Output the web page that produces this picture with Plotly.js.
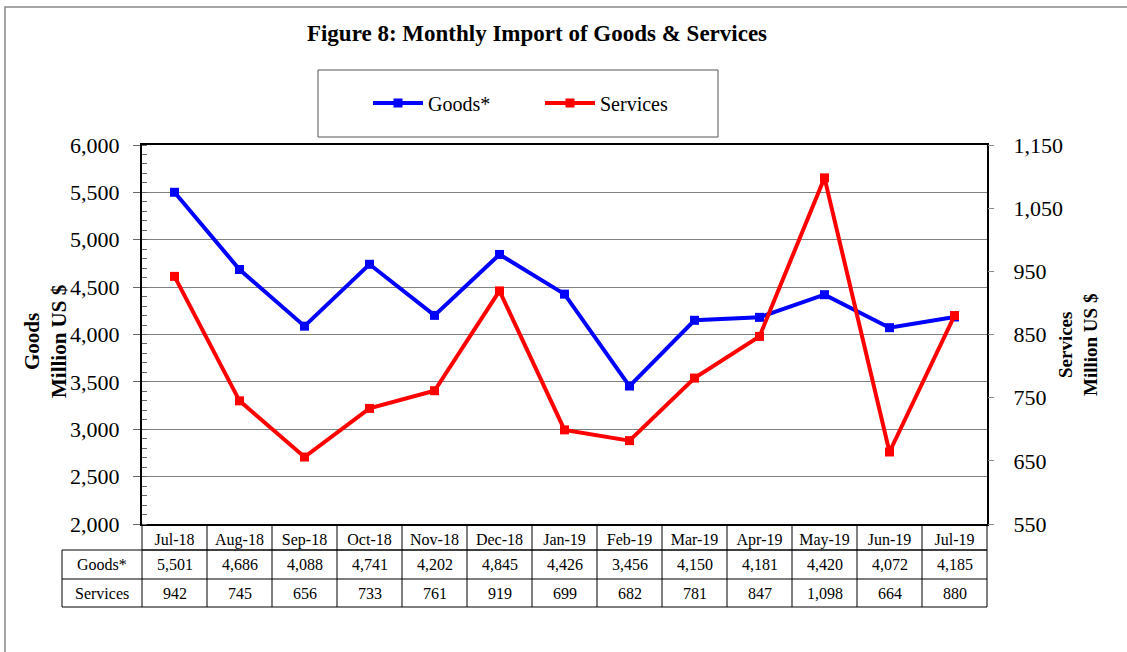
<!DOCTYPE html>
<html>
<head>
<meta charset="utf-8">
<script src="https://cdn.plot.ly/plotly-3.0.1.min.js"></script>
<style>
  body { margin: 0; background: #fff; }
  #chart { width: 1127px; height: 652px; }
</style>
</head>
<body>
<div id="chart"></div>
<script>
// months on the x axis (also the header row of the table)
const months = ['Jul-18', 'Aug-18', 'Sep-18', 'Oct-18', 'Nov-18', 'Dec-18', 'Jan-19',
  'Feb-19', 'Mar-19', 'Apr-19', 'May-19', 'Jun-19', 'Jul-19'];
// Million US $
const goods = [5501, 4686, 4088, 4741, 4202, 4845, 4426, 3456, 4150, 4181, 4420, 4072, 4185];
const services = [942, 745, 656, 733, 761, 919, 699, 682, 781, 847, 1098, 664, 880];
const rowLabels = ['Goods*', 'Services'];

const FONT = "'Liberation Serif', 'Times New Roman', serif";

// plot area in pixels, used to turn pixel spots into paper coords
const L = 142, R = 140, T = 145, B = 128;
const W = 1127 - L - R, H = 652 - T - B;
const px = x => (x - L) / W;
const py = y => (652 - B - y) / H;

const fmt = v => v.toLocaleString('en-US');

const goodsTrace = {
  name: 'Goods*',
  x: months,
  y: goods,
  type: 'scatter',
  mode: 'lines+markers',
  line: { color: '#0000ff', width: 4 },
  marker: { color: '#0000ff', symbol: 'square', size: 9 },
  yaxis: 'y',
};
const servicesTrace = {
  name: 'Services',
  x: months,
  y: services,
  type: 'scatter',
  mode: 'lines+markers',
  line: { color: '#ff0000', width: 4 },
  marker: { color: '#ff0000', symbol: 'square', size: 9 },
  yaxis: 'y2',
};

/*
  The data table under the chart: shapes for the grid, annotations for the text
*/
const rowEdges = [py(524), py(550), py(579), py(607)];
const labelLeft = px(62);
const shapes = [];
const annotations = [];

// horizontal rules
shapes.push({ type: 'line', xref: 'paper', yref: 'paper', x0: 0, x1: 1, y0: rowEdges[1], y1: rowEdges[1], line: { color: '#000', width: 1 } });
for (const yy of [rowEdges[1], rowEdges[2], rowEdges[3]]) {
  shapes.push({ type: 'line', xref: 'paper', yref: 'paper', x0: labelLeft, x1: 1, y0: yy, y1: yy, line: { color: '#000', width: 1 } });
}
// vertical rules between months
for (let i = 0; i <= months.length; i++) {
  shapes.push({ type: 'line', xref: 'paper', yref: 'paper', x0: i / months.length, x1: i / months.length, y0: rowEdges[0], y1: rowEdges[3], line: { color: '#000', width: 1 } });
}
shapes.push({ type: 'line', xref: 'paper', yref: 'paper', x0: labelLeft, x1: labelLeft, y0: rowEdges[1], y1: rowEdges[3], line: { color: '#000', width: 1 } });

const rowSeries = [goods, services];
rowSeries.forEach((vals, r) => {
  const yMid = (rowEdges[r + 1] + rowEdges[r + 2]) / 2;
  annotations.push({
    xref: 'paper', yref: 'paper', x: (labelLeft + 0) / 2, y: yMid,
    text: rowLabels[r], showarrow: false, xanchor: 'center', yanchor: 'middle',
    font: { family: FONT, size: 16, color: '#000' },
  });
  vals.forEach((v, i) => {
    annotations.push({
      xref: 'x', yref: 'paper', x: months[i], y: yMid,
      text: fmt(v), showarrow: false, xanchor: 'center', yanchor: 'middle',
      font: { family: FONT, size: 16, color: '#000' },
    });
  });
});

// axis titles
annotations.push({
  xref: 'paper', yref: 'paper', x: px(45), y: py(342),
  text: '<b>Goods<br>Million US $</b>', textangle: -90, showarrow: false,
  xanchor: 'center', yanchor: 'middle',
  font: { family: FONT, size: 21, color: '#000' },
});
annotations.push({
  xref: 'paper', yref: 'paper', x: px(1078), y: py(345),
  text: '<b>Services<br>Million US $</b>', textangle: -90, showarrow: false,
  xanchor: 'center', yanchor: 'middle',
  font: { family: FONT, size: 19, color: '#000' },
});

// legend box and outer frame
shapes.push({ type: 'rect', xref: 'paper', yref: 'paper', x0: px(318), x1: px(718), y0: py(137), y1: py(70), line: { color: '#555', width: 1 } });
shapes.push({ type: 'rect', xref: 'paper', yref: 'paper', x0: px(5), x1: px(1140), y0: py(660), y1: py(7), line: { color: '#888', width: 1.5 } });

const layout = {
  width: 1127,
  height: 652,
  title: {
    text: '<b>Figure 8: Monthly Import of Goods & Services</b>',
    xref: 'container', yref: 'container',
    x: 537 / 1127, y: 1 - 33 / 652, xanchor: 'center', yanchor: 'middle',
    font: { family: FONT, size: 23, color: '#000' },
  },
  showlegend: true,
  legend: {
    orientation: 'h',
    x: px(540), y: py(103), xanchor: 'center', yanchor: 'middle',
    font: { family: FONT, size: 20, color: '#000' },
    bgcolor: 'rgba(0,0,0,0)',
    itemwidth: 50,
    entrywidth: 107,
  },
  margin: { l: L, r: R, t: T, b: B, pad: 0 },
  plot_bgcolor: '#fff',
  paper_bgcolor: '#fff',
  xaxis: {
    type: 'category',
    range: [-0.5, months.length - 0.5],
    showline: true, linecolor: '#000', linewidth: 2, mirror: true,
    showgrid: false, zeroline: false,
    ticks: '',
    tickfont: { family: FONT, size: 16, color: '#000' },
    fixedrange: true,
  },
  yaxis: {
    range: [2000, 6000],
    dtick: 500,
    tickformat: ',d',
    showline: true, linecolor: '#000', linewidth: 2, mirror: true,
    showgrid: true, gridcolor: '#808080', gridwidth: 1,
    zeroline: false,
    ticks: 'outside', ticklen: 7, tickcolor: '#666',
    ticklabelstandoff: 9,
    minor: { dtick: 100, ticks: 'inside', ticklen: 5, tickcolor: '#666', showgrid: false },
    tickfont: { family: FONT, size: 22, color: '#000' },
    fixedrange: true,
  },
  yaxis2: {
    overlaying: 'y',
    side: 'right',
    range: [550, 1150],
    tick0: 550,
    dtick: 100,
    tickformat: ',d',
    showgrid: false, zeroline: false,
    showline: false,
    ticks: 'outside', ticklen: 6, tickcolor: '#888',
    ticklabelstandoff: 15,
    tickfont: { family: FONT, size: 22, color: '#000' },
    fixedrange: true,
  },
  shapes: shapes,
  annotations: annotations,
};

Plotly.newPlot('chart', [goodsTrace, servicesTrace], layout, { displayModeBar: false, staticPlot: true });
</script>
</body>
</html>
